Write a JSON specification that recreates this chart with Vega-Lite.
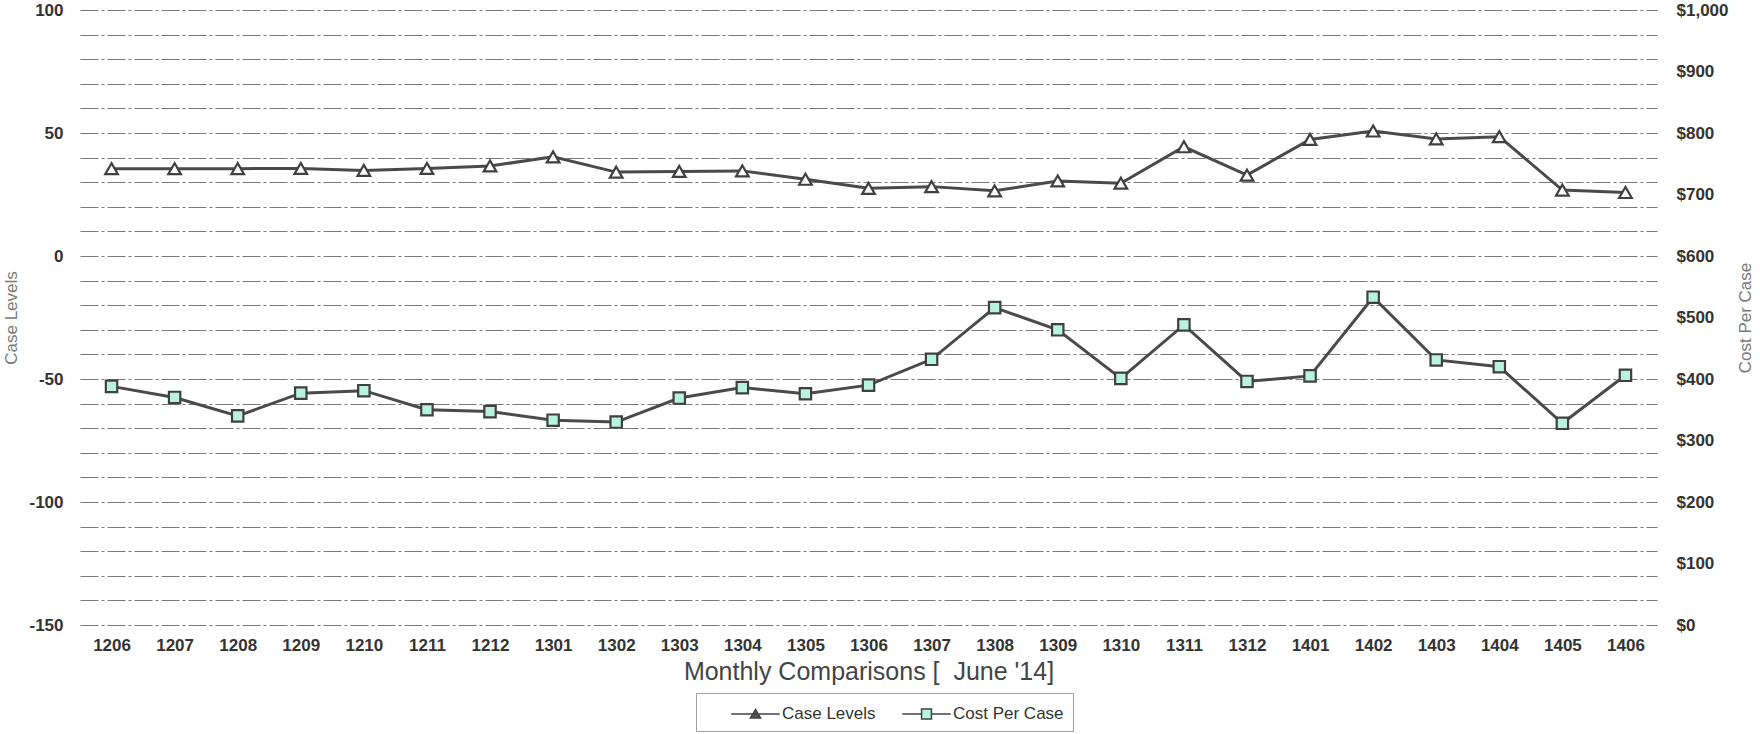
{
  "$schema": "https://vega.github.io/schema/vega-lite/v6.json",
  "width": 1577,
  "height": 615,
  "padding": {"left": 2, "top": 1, "right": 0, "bottom": 0},
  "background": "white",
  "config": {
    "font": "Liberation Sans",
    "view": {"stroke": null},
    "axis": {
      "domain": false,
      "ticks": false,
      "labelFont": "Liberation Sans",
      "labelFontWeight": "bold",
      "labelFontSize": 17,
      "labelColor": "#333333",
      "titleFont": "Liberation Sans",
      "titleFontWeight": "normal",
      "titleColor": "#7a7a7a",
      "titleFontSize": 17
    }
  },
  "data": {
    "values": [
      {"month": "1206", "caseLevels": 35.5, "costPerCase": 388},
      {"month": "1207", "caseLevels": 35.5, "costPerCase": 370},
      {"month": "1208", "caseLevels": 35.5, "costPerCase": 340},
      {"month": "1209", "caseLevels": 35.6, "costPerCase": 377},
      {"month": "1210", "caseLevels": 34.8, "costPerCase": 381},
      {"month": "1211", "caseLevels": 35.6, "costPerCase": 350},
      {"month": "1212", "caseLevels": 36.6, "costPerCase": 347},
      {"month": "1301", "caseLevels": 40.3, "costPerCase": 333},
      {"month": "1302", "caseLevels": 34.1, "costPerCase": 330},
      {"month": "1303", "caseLevels": 34.4, "costPerCase": 369},
      {"month": "1304", "caseLevels": 34.6, "costPerCase": 386},
      {"month": "1305", "caseLevels": 31.2, "costPerCase": 376},
      {"month": "1306", "caseLevels": 27.5, "costPerCase": 390},
      {"month": "1307", "caseLevels": 28.2, "costPerCase": 432},
      {"month": "1308", "caseLevels": 26.5, "costPerCase": 516},
      {"month": "1309", "caseLevels": 30.5, "costPerCase": 480},
      {"month": "1310", "caseLevels": 29.6, "costPerCase": 401},
      {"month": "1311", "caseLevels": 44.4, "costPerCase": 488},
      {"month": "1312", "caseLevels": 32.9, "costPerCase": 396},
      {"month": "1401", "caseLevels": 47.4, "costPerCase": 405},
      {"month": "1402", "caseLevels": 50.8, "costPerCase": 533},
      {"month": "1403", "caseLevels": 47.6, "costPerCase": 431},
      {"month": "1404", "caseLevels": 48.5, "costPerCase": 420},
      {"month": "1405", "caseLevels": 26.8, "costPerCase": 328},
      {"month": "1406", "caseLevels": 25.8, "costPerCase": 406}
    ]
  },
  "encoding": {
    "x": {
      "field": "month",
      "type": "ordinal",
      "sort": null,
      "scale": {"type": "point", "padding": 0.5},
      "axis": {
        "title": "Monthly Comparisons [\u00a0 June '14]",
        "titleFontSize": 25,
        "titleColor": "#444444",
        "labelAngle": 0,
        "labelPadding": 12,
        "titlePadding": 6
      }
    }
  },
  "layer": [
    {
      "encoding": {
        "y": {
          "field": "caseLevels",
          "type": "quantitative",
          "scale": {"domain": [-150, 100], "nice": false, "zero": false},
          "axis": {
            "title": "Case Levels",
            "values": [-150, -140, -130, -120, -110, -100, -90, -80, -70, -60, -50, -40, -30, -20, -10, 0, 10, 20, 30, 40, 50, 60, 70, 80, 90, 100],
            "labelExpr": "datum.value % 50 === 0 ? '' + datum.value : ''",
            "grid": true,
            "gridColor": "#7a7a7a",
            "gridWidth": 1.1,
            "gridDash": [18, 3, 3, 3],
            "labelPadding": 17,
            "titlePadding": 8
          }
        }
      },
      "layer": [
        {"mark": {"type": "line", "color": "#4a4a4a", "strokeWidth": 3}},
        {"mark": {"type": "point", "shape": "triangle-up", "filled": true, "fill": "white", "stroke": "#404040", "strokeWidth": 2.2, "size": 160, "opacity": 1}}
      ]
    },
    {
      "encoding": {
        "y": {
          "field": "costPerCase",
          "type": "quantitative",
          "scale": {"domain": [0, 1000], "nice": false},
          "axis": {
            "orient": "right",
            "title": "Cost Per Case",
            "titleAngle": 270,
            "values": [0, 100, 200, 300, 400, 500, 600, 700, 800, 900, 1000],
            "format": "$,.0f",
            "grid": false,
            "labelPadding": 19,
            "titlePadding": 27
          }
        }
      },
      "layer": [
        {"mark": {"type": "line", "color": "#4a4a4a", "strokeWidth": 3}},
        {"mark": {"type": "point", "shape": "square", "filled": true, "fill": "#b8f2e1", "stroke": "#404040", "strokeWidth": 2.2, "size": 130, "opacity": 1}}
      ]
    },
    {
      "data": {"values": []},
      "mark": {"type": "point", "filled": true, "size": 484, "opacity": 1, "stroke": "#444444", "strokeWidth": 2},
      "encoding": {
        "shape": {
          "field": "series",
          "type": "nominal",
          "scale": {
            "domain": ["Case Levels", "Cost Per Case"],
            "range": ["M1.3,0H5.7M3.5,-0.42L3.96,0.36H3.04Z", "M1.3,0H3.05M3.95,0H5.7M3.05,-0.45H3.95V0.45H3.05Z"]
          },
          "legend": {
            "title": null,
            "orient": "none",
            "legendX": 616,
            "legendY": 683,
            "direction": "horizontal",
            "labelFont": "Liberation Sans",
            "labelFontSize": 17,
            "labelColor": "#333333",
            "strokeColor": "#a0a0a0",
            "padding": 9,
            "symbolSize": 484,
            "labelOffset": 53,
            "columnPadding": 0,
            "encode": {"symbols": {"update": {"stroke": {"value": "#444444"}, "strokeWidth": {"value": 2}, "size": {"value": 484}}}}
          }
        },
        "fill": {
          "field": "series",
          "type": "nominal",
          "scale": {"domain": ["Case Levels", "Cost Per Case"], "range": ["#555555", "#b8f2e1"]},
          "legend": {
            "title": null,
            "orient": "none",
            "legendX": 616,
            "legendY": 683,
            "direction": "horizontal",
            "labelFont": "Liberation Sans",
            "labelFontSize": 17,
            "labelColor": "#333333",
            "strokeColor": "#a0a0a0",
            "padding": 9,
            "symbolSize": 484,
            "labelOffset": 53,
            "columnPadding": 0,
            "encode": {"symbols": {"update": {"stroke": {"value": "#444444"}, "strokeWidth": {"value": 2}, "size": {"value": 484}}}}
          }
        }
      }
    }
  ],
  "resolve": {"scale": {"y": "independent"}}
}
